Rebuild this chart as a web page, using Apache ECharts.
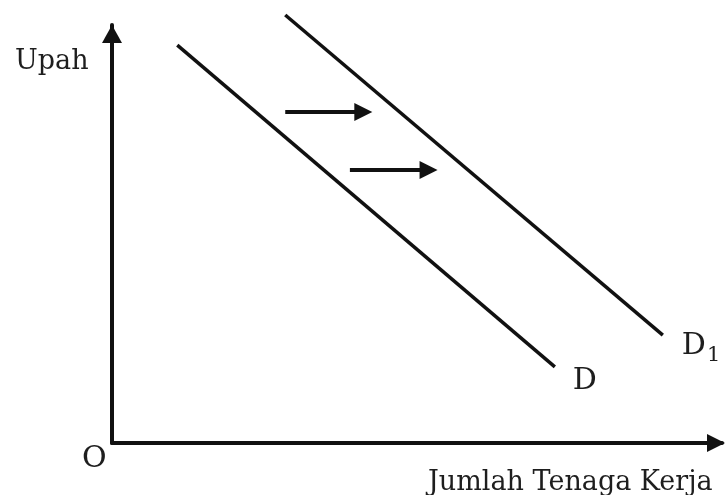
<!DOCTYPE html>
<html>
<head>
<meta charset="utf-8">
<title>Permintaan Tenaga Kerja</title>
<script src="https://cdn.jsdelivr.net/npm/echarts@6/dist/echarts.min.js"></script>
<style>
  html, body { margin: 0; padding: 0; background: #fff; }
  #chart { width: 725px; height: 495px; }
</style>
</head>
<body>
<div id="chart"></div>
<script>
// demand curves (x = jumlah tenaga kerja, y = upah), arbitrary units 0..100
const demandD = [[10.7, 95.2], [72.6, 18.2]]
const demandD1 = [[28.4, 102.4], [90.3, 25.8]]
// shift arrows from D towards D1 (end = centre of the arrow head)
const shiftArrows = [
  [[28.4, 79.2], [41.2, 79.2]],
  [[39.0, 65.3], [51.9, 65.3]]
]
const xName = 'Jumlah Tenaga Kerja'
const yName = 'Upah'
const originLabel = 'O'

const chart = echarts.init(document.getElementById('chart'))
const serif = 'DejaVu Serif'
const ink = '#111'
const textInk = '#1e1e1e'

chart.setOption({
  animation: false,
  backgroundColor: '#fff',
  grid: { left: 112, right: 3, top: 25, bottom: 52 },
  xAxis: {
    type: 'value', min: 0, max: 100,
    axisLine: { show: true, symbol: ['none', 'triangle'], symbolSize: [18, 18], symbolOffset: [0, -6], lineStyle: { color: ink, width: 4 } },
    axisTick: { show: false },
    axisLabel: { show: false },
    splitLine: { show: false }
  },
  yAxis: {
    type: 'value', min: 0, max: 100,
    axisLine: { show: true, symbol: ['none', 'triangle'], symbolSize: [20, 18], symbolOffset: [0, -9], lineStyle: { color: ink, width: 4 } },
    axisTick: { show: false },
    axisLabel: { show: false },
    splitLine: { show: false }
  },
  graphic: [
    { type: 'text', left: 15, top: 48, style: { text: yName, font: '27px "' + serif + '"', fill: textInk } },
    { type: 'text', left: 82, top: 444, style: { text: originLabel, font: '30px "' + serif + '"', fill: textInk } },
    { type: 'text', left: 428, top: 469, style: { text: xName, font: '27px "' + serif + '"', fill: textInk } }
  ],
  series: [
    {
      name: 'D', type: 'line', data: demandD, symbol: 'none', clip: false,
      lineStyle: { color: ink, width: 3.5 },
      endLabel: { show: true, formatter: 'D', offset: [10, 14], fontFamily: serif, fontSize: 30, color: textInk }
    },
    {
      name: 'D1', type: 'line', data: demandD1, symbol: 'none', clip: false,
      lineStyle: { color: ink, width: 3.5 },
      endLabel: {
        show: true, formatter: '{d|D}{s|1}', offset: [11, 11],
        rich: {
          d: { fontFamily: serif, fontSize: 30, color: textInk },
          s: { fontFamily: serif, fontSize: 21, color: textInk, padding: [18, 0, 0, 1] }
        }
      }
    },
    {
      type: 'lines', coordinateSystem: 'cartesian2d', data: shiftArrows.map(c => ({ coords: c })),
      symbol: ['none', 'triangle'], symbolSize: [16, 18],
      lineStyle: { color: ink, width: 4, opacity: 1 }
    }
  ]
})
</script>
</body>
</html>
